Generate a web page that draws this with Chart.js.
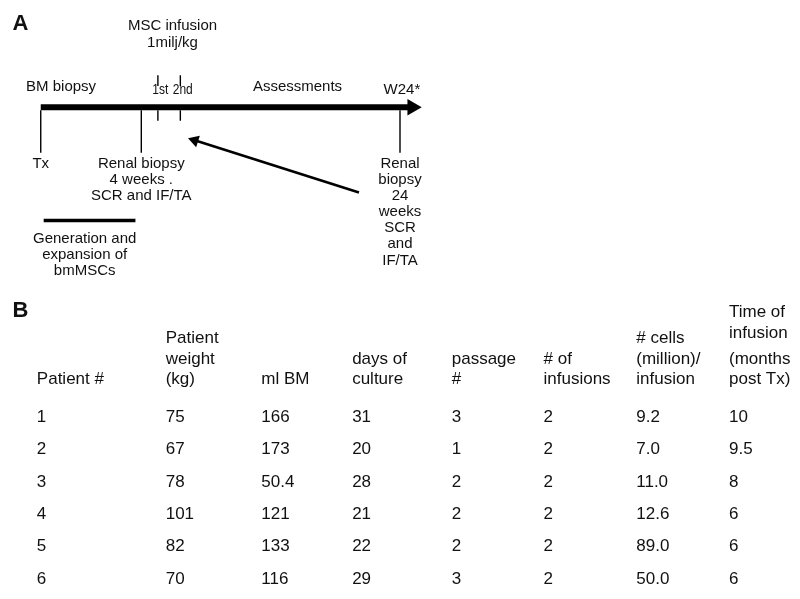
<!DOCTYPE html>
<html>
<head>
<meta charset="utf-8">
<script src="https://cdn.jsdelivr.net/npm/chart.js@4/dist/chart.umd.min.js"></script>
<style>
html,body{margin:0;padding:0;background:#fff;}
canvas{display:block;}
</style>
</head>
<body>
<canvas id="c" width="800" height="599"></canvas>
<script>
// ================= DATA =================
// Panel A: schematic timeline (timeline units, Tx = 0)
const timelineStart = 0;
const timelineEnd = 38.0;
const timelineArrowTip = 39.0;
const eventLabels = [
  ['Tx'],
  ['Renal biopsy', '4 weeks .', 'SCR and IF/TA'],
  ['Renal', 'biopsy', '24', 'weeks', 'SCR', 'and', 'IF/TA']
];
const eventPos = [0, 10.3, 36.8];
const infusionLabels = ['1st', '2nd'];
const infusionPos = [12.0, 14.3];
const infusionTitle = ['MSC infusion', '1milj/kg'];
const topLabels = ['BM biopsy', 'Assessments', 'W24*'];
const topLabelPos = [-1.5, 26.3, 37.0];
const cultureSpan = [0.3, 9.7];
const cultureLabel = ['Generation and', 'expansion of', 'bmMSCs'];
const arrowFromPos = 32.6;
const arrowToPos = 15.1;

// Panel B: table
const tableHeaders = [
  ['Patient #'],
  ['Patient', 'weight', '(kg)'],
  ['ml BM'],
  ['days of', 'culture'],
  ['passage', '#'],
  ['# of', 'infusions'],
  ['# cells', '(million)/', 'infusion'],
  ['Time of', 'infusion', '(months', 'post Tx)']
];
const patientIds = ['1', '2', '3', '4', '5', '6'];
const weightKg = [75, 67, 78, 101, 82, 70];
const mlBM = [166, 173, 50.4, 121, 133, 116];
const daysOfCulture = [31, 20, 28, 21, 22, 29];
const passageNo = [3, 1, 2, 2, 2, 3];
const infusionsNo = [2, 2, 2, 2, 2, 2];
const cellsMillion = [9.2, 7.0, 11.0, 12.6, 89.0, 50.0];
const timeMonthsPostTx = [10, 9.5, 8, 6, 6, 6];

// ================= LAYOUT (positions / sizes / styles) =================
const W = 800, H = 599;
const TL_MIN = -3.2, TL_MAX = 76.8;           // timeline x scale
const PX_PER_UNIT = W / (TL_MAX - TL_MIN);
const L = {
  barY: 101, barW: 6, headR: 9.5,
  eventTop: 104, eventBottom: 148, eventLineW: 1.4,
  eventLabelY: 159, eventLabelStep: 16.7,
  tickAbove: [68, 79], tickBelow: [104, 115],
  infusionLabelY: 83, infusionLabelDx: 0.25,
  titleY: [17, 34], titleX: 13.5,
  topLabelY: [80, 80, 83], topLabelAlign: ['left', 'center', 'center'],
  cultureY: 218, cultureW: 3.5, cultureLabelX: 4.5, cultureLabelY: 237, cultureLabelStep: 16.5,
  arrowFromY: 189, arrowToY: 133, arrowW: 2.6, arrowHeadR: 7,
  letterA: [3, 15], letterB: [3, 311],
  colX: [28, 160, 258, 351, 453, 547, 642, 737],
  rowFirstY: 421, rowStep: 33.4,
  headerBottomY: 382, headerStep: 21, headerExtraGap: {7: {from: 2, gap: 6}}
};
const fontTL = '15px "Liberation Sans", Arial, sans-serif';
const fontSmall = '15px "Liberation Sans", Arial, sans-serif';
const fontTab = '17px "Liberation Sans", Arial, sans-serif';
const fontLetter = 'bold 22px "Liberation Sans", Arial, sans-serif';
const INK = '#111';

// row scale (table): value i -> row i
const ROW_MIN = 1 - L.rowFirstY / L.rowStep;
const ROW_MAX = ROW_MIN + H / L.rowStep;
const rowOfPx = py => 1 + (py - L.rowFirstY) / L.rowStep;

// ================= DATASETS =================
const datasets = [];
function seg(x1, y1, x2, y2, w, xAxisID = 'x', yAxisID = 'y') {
  datasets.push({
    type: 'scatter', showLine: true, xAxisID, yAxisID,
    data: [{x: x1, y: y1}, {x: x2, y: y2}],
    borderColor: '#000', borderWidth: w, pointRadius: 0, fill: false
  });
}
function head(x, y, r, rotation) {
  datasets.push({
    type: 'scatter', xAxisID: 'x', yAxisID: 'y',
    data: [{x, y}], pointStyle: 'triangle', pointRadius: r, pointRotation: rotation,
    backgroundColor: '#000', borderColor: '#000', borderWidth: 0
  });
}
// main timeline bar + arrow head
seg(timelineStart, L.barY, timelineEnd, L.barY, L.barW);
head(timelineArrowTip - L.headR / PX_PER_UNIT, L.barY, L.headR, 90);
// event lines
eventPos.forEach(p => seg(p, L.eventTop, p, L.eventBottom, L.eventLineW));
// infusion ticks
infusionPos.forEach(p => {
  seg(p, L.tickAbove[0], p, L.tickAbove[1], L.eventLineW);
  seg(p, L.tickBelow[0], p, L.tickBelow[1], L.eventLineW);
});
// culture span bar
seg(cultureSpan[0], L.cultureY, cultureSpan[1], L.cultureY, L.cultureW);
// diagonal arrow
(function () {
  const dxPx = (arrowToPos - arrowFromPos) * PX_PER_UNIT;
  const dyPx = L.arrowToY - L.arrowFromY;
  const len = Math.hypot(dxPx, dyPx);
  const ux = dxPx / len, uy = dyPx / len;
  const rot = Math.atan2(dxPx, -dyPx) * 180 / Math.PI;
  const cx = arrowToPos - ux * L.arrowHeadR / PX_PER_UNIT;
  const cy = L.arrowToY - uy * L.arrowHeadR;
  seg(arrowFromPos, L.arrowFromY, cx, cy, L.arrowW);
  head(cx, cy, L.arrowHeadR, rot);
})();

// table cells as point datasets (text drawn at element positions)
const tableCols = [
  patientIds,
  weightKg.map(String),
  mlBM.map(String),
  daysOfCulture.map(String),
  passageNo.map(String),
  infusionsNo.map(String),
  cellsMillion.map(v => v.toFixed(1)),
  timeMonthsPostTx.map(String)
];
tableCols.forEach((col, c) => {
  datasets.push({
    type: 'scatter', xAxisID: 'xt', yAxisID: 'yr',
    data: col.map((v, i) => ({x: L.colX[c], y: i + 1})),
    cellText: col, pointRadius: 0, borderWidth: 0
  });
});

// ================= TEXT ITEMS =================
const items = [];
items.push({text: ['A'], x: L.letterA[0], y: L.letterA[1], xa: 'xt', ya: 'y', font: fontLetter});
items.push({text: ['B'], x: L.letterB[0], y: L.letterB[1], xa: 'xt', ya: 'y', font: fontLetter});
infusionTitle.forEach((t, k) => items.push({text: [t], x: L.titleX, y: L.titleY[k], align: 'center', font: fontTL}));
topLabels.forEach((t, k) => items.push({text: [t], x: topLabelPos[k], y: L.topLabelY[k], align: L.topLabelAlign[k], font: fontTL}));
infusionLabels.forEach((t, k) => items.push({text: [t], x: infusionPos[k] + L.infusionLabelDx, y: L.infusionLabelY, align: 'center', font: fontSmall, sx: 0.8}));
eventLabels.forEach((lines, k) => items.push({text: lines, x: eventPos[k], y: L.eventLabelY, step: L.eventLabelStep, align: 'center', font: fontTL}));
items.push({text: cultureLabel, x: L.cultureLabelX, y: L.cultureLabelY, step: L.cultureLabelStep, align: 'center', font: fontTL});
tableHeaders.forEach((lines, c) => {
  const n = lines.length;
  lines.forEach((ln, k) => {
    const fromBottom = n - 1 - k;
    let py = L.headerBottomY - fromBottom * L.headerStep;
    const g = L.headerExtraGap[c];
    if (g && fromBottom >= g.from) py -= g.gap;
    items.push({text: [ln], x: L.colX[c], y: rowOfPx(py), xa: 'xt', ya: 'yr', font: fontTab});
  });
});

// ================= PLUGIN =================
const figText = {
  id: 'figText',
  afterDatasetsDraw(chart, args, opts) {
    const ctx = chart.ctx;
    ctx.save();
    ctx.fillStyle = INK;
    ctx.textBaseline = 'middle';
    // table cells
    chart.data.datasets.forEach((ds, di) => {
      if (!ds.cellText) return;
      ctx.font = fontTab;
      ctx.textAlign = 'left';
      chart.getDatasetMeta(di).data.forEach((el, i) => ctx.fillText(ds.cellText[i], el.x, el.y));
    });
    // labels
    opts.items.forEach(it => {
      const xs = chart.scales[it.xa || 'x'], ys = chart.scales[it.ya || 'y'];
      ctx.font = it.font;
      ctx.textAlign = it.align || 'left';
      it.text.forEach((ln, k) => {
        const px = xs.getPixelForValue(it.x);
        const py = ys.getPixelForValue(it.y + k * (it.step || 0));
        if (it.sx) {
          ctx.save();
          ctx.translate(px, py);
          ctx.scale(it.sx, 1);
          ctx.fillText(ln, 0, 0);
          ctx.restore();
        } else {
          ctx.fillText(ln, px, py);
        }
      });
    });
    ctx.restore();
  }
};

new Chart(document.getElementById('c'), {
  type: 'scatter',
  data: {datasets},
  plugins: [figText],
  options: {
    responsive: false,
    animation: false,
    events: [],
    devicePixelRatio: 1,
    layout: {padding: 0},
    plugins: {legend: {display: false}, tooltip: {enabled: false}, title: {display: false}, figText: {items}},
    scales: {
      x: {type: 'linear', axis: 'x', min: TL_MIN, max: TL_MAX, display: false},
      y: {type: 'linear', axis: 'y', min: 0, max: H, reverse: true, display: false},
      xt: {type: 'linear', axis: 'x', min: 0, max: W, display: false},
      yr: {type: 'linear', axis: 'y', min: ROW_MIN, max: ROW_MAX, reverse: true, display: false}
    }
  }
});
</script>
</body>
</html>
